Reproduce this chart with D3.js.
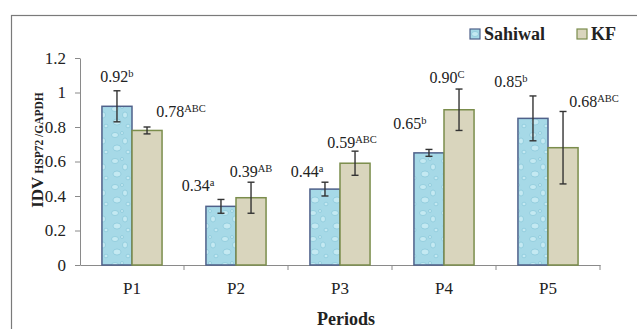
<!DOCTYPE html>
<html>
<head>
<meta charset="utf-8">
<script src="https://cdn.jsdelivr.net/npm/d3@7"></script>
<style>
  html, body { margin: 0; padding: 0; background: #fff; }
  svg { display: block; }
  svg text { font-family: "Liberation Serif", "DejaVu Serif", serif; }
</style>
</head>
<body>
<svg id="chart" width="637" height="329"></svg>
<script>
// data
const periods = ['P1', 'P2', 'P3', 'P4', 'P5'];
const series = ['Sahiwal', 'KF'];
const sahiwalValues = [0.92, 0.34, 0.44, 0.65, 0.85];
const kfValues = [0.78, 0.39, 0.59, 0.90, 0.68];
const sahiwalErrors = [0.09, 0.04, 0.04, 0.02, 0.13];
const kfErrors = [0.02, 0.09, 0.07, 0.12, 0.21];
const sahiwalLetters = ['b', 'a', 'a', 'b', 'b'];
const kfLetters = ['ABC', 'AB', 'ABC', 'C', 'ABC'];
const yTicks = [0, 0.2, 0.4, 0.6, 0.8, 1, 1.2];
const yTickLabels = ['0', '0.2', '0.4', '0.6', '0.8', '1', '1.2'];

// label placement in the original is hand-made: shift of each label from its bar
const sahiwalLabelShift = [[0, 9], [-23, 8], [-18, 5], [-19, 20], [-22, 9]];
const kfLabelShift = [[34, 10], [0, 5], [-3, 3], [-12, 6], [31, 4]];

const colors = {
	Sahiwal: { fill: 'url(#drops)', stroke: '#4f618a' },
	KF: { fill: '#d9d5bd', stroke: '#7b8d4c' }
};

const rows = series.map((name, s) => ({
	name,
	values: s === 0 ? sahiwalValues : kfValues,
	errors: s === 0 ? sahiwalErrors : kfErrors,
	letters: s === 0 ? sahiwalLetters : kfLetters,
	shift: s === 0 ? sahiwalLabelShift : kfLabelShift
}));

const svg = d3.select('#chart');

// bubbly light-blue fill like the original
const defs = svg.append('defs');
const pat = defs.append('pattern')
	.attr('id', 'drops')
	.attr('patternUnits', 'userSpaceOnUse')
	.attr('width', 22)
	.attr('height', 26);
pat.append('rect').attr('width', 22).attr('height', 26).attr('fill', '#a6d9e7');
[[5, 5, 3.5, 2.5], [15, 11, 2.5, 3], [7, 18, 4, 3], [18, 22, 2, 1.8], [12, 3, 1.5, 1.5]].forEach(([cx, cy, rx, ry]) => {
	pat.append('ellipse').attr('cx', cx).attr('cy', cy).attr('rx', rx).attr('ry', ry)
		.attr('fill', '#c4e9f2').attr('stroke', '#86c6d8').attr('stroke-width', 0.7);
});

// frame
svg.append('rect')
	.attr('x', 11.5).attr('y', 15.5)
	.attr('width', 700).attr('height', 400)
	.attr('fill', 'none').attr('stroke', '#7a7a7a').attr('stroke-width', 1.2);

const x = d3.scaleBand().domain(periods).range([80, 600]);
const xInner = d3.scaleBand().domain(series).range([0, x.bandwidth()]).paddingOuter(0.73);
const y = d3.scaleLinear().domain([0, 1.2]).range([265, 58]);

const axisColor = '#8a8a8a';

// y axis
svg.append('g')
	.attr('transform', 'translate(80,0)')
	.call(d3.axisLeft(y).tickValues(yTicks).tickFormat((d, i) => yTickLabels[i]).tickSize(5).tickPadding(9).tickSizeOuter(0))
	.attr('font-family', null).attr('font-size', 17)
	.call(g => g.selectAll('path, line').attr('stroke', axisColor))
	.call(g => g.selectAll('text').attr('fill', '#222'));

// x axis: labels in the middle, ticks on the band edges
svg.append('g')
	.attr('transform', 'translate(0,265)')
	.call(d3.axisBottom(x).tickSize(0).tickPadding(17).tickSizeOuter(0))
	.attr('font-family', null).attr('font-size', 17)
	.call(g => g.select('.domain').attr('stroke', axisColor))
	.call(g => g.selectAll('text').attr('fill', '#222'));

svg.append('g')
	.selectAll('line')
	.data(periods)
	.join('line')
	.attr('x1', d => x(d) + x.bandwidth())
	.attr('x2', d => x(d) + x.bandwidth())
	.attr('y1', 265).attr('y2', 270)
	.attr('stroke', axisColor);

// bars
const groups = svg.append('g')
	.selectAll('g')
	.data(rows)
	.join('g');

groups.selectAll('rect')
	.data(r => r.values.map((v, i) => ({ r, v, i })))
	.join('rect')
	.attr('x', d => x(periods[d.i]) + xInner(d.r.name))
	.attr('y', d => y(d.v))
	.attr('width', xInner.bandwidth())
	.attr('height', d => y(0) - y(d.v))
	.attr('fill', d => colors[d.r.name].fill)
	.attr('stroke', d => colors[d.r.name].stroke)
	.attr('stroke-width', 1.5);

// error bars
const errs = groups.selectAll('g.err')
	.data(r => r.values.map((v, i) => ({ r, v, i, e: r.errors[i] })))
	.join('g')
	.attr('class', 'err')
	.attr('stroke', '#333')
	.attr('stroke-width', 1.4);
const cx = d => x(periods[d.i]) + xInner(d.r.name) + xInner.bandwidth() / 2;
errs.append('line').attr('x1', cx).attr('x2', cx).attr('y1', d => y(d.v + d.e)).attr('y2', d => y(d.v - d.e));
errs.append('line').attr('x1', d => cx(d) - 3.5).attr('x2', d => cx(d) + 3.5).attr('y1', d => y(d.v + d.e)).attr('y2', d => y(d.v + d.e));
errs.append('line').attr('x1', d => cx(d) - 3.5).attr('x2', d => cx(d) + 3.5).attr('y1', d => y(d.v - d.e)).attr('y2', d => y(d.v - d.e));

// value labels with letter superscripts
const labels = groups.selectAll('text.val')
	.data(r => r.values.map((v, i) => ({ r, v, i, e: r.errors[i] })))
	.join('text')
	.attr('class', 'val')
	.attr('text-anchor', 'middle')
	.attr('x', d => cx(d) + d.r.shift[d.i][0])
	.attr('y', d => y(d.v + d.e) - d.r.shift[d.i][1])
	.attr('font-size', 16)
	.attr('fill', '#222');
labels.append('tspan').text(d => d3.format('.2f')(d.v));
labels.append('tspan').attr('dy', -5).attr('font-size', 10.5).text(d => d.r.letters[d.i]);

// legend
const legendX = [470, 577];
const legend = svg.append('g')
	.selectAll('g')
	.data(series)
	.join('g')
	.attr('transform', (d, i) => `translate(${legendX[i]},29)`);
legend.append('rect')
	.attr('width', 10).attr('height', 10)
	.attr('fill', d => colors[d].fill)
	.attr('stroke', d => colors[d].stroke)
	.attr('stroke-width', 1.2);
legend.append('text')
	.attr('x', 14).attr('y', 10.5)
	.attr('font-size', 18).attr('font-weight', 'bold').attr('fill', '#222')
	.text(d => d);

// axis titles
svg.append('text')
	.attr('x', 346).attr('y', 325)
	.attr('text-anchor', 'middle')
	.attr('font-size', 18).attr('font-weight', 'bold').attr('fill', '#222')
	.text('Periods');

const yTitle = svg.append('text')
	.attr('transform', 'translate(43,150) rotate(-90)')
	.attr('text-anchor', 'middle')
	.attr('font-weight', 'bold').attr('fill', '#222');
yTitle.append('tspan').attr('font-size', 17).text('IDV');
yTitle.append('tspan').attr('font-size', 11.5).attr('dx', 3).text('HSP72 /GAPDH');
</script>
</body>
</html>
